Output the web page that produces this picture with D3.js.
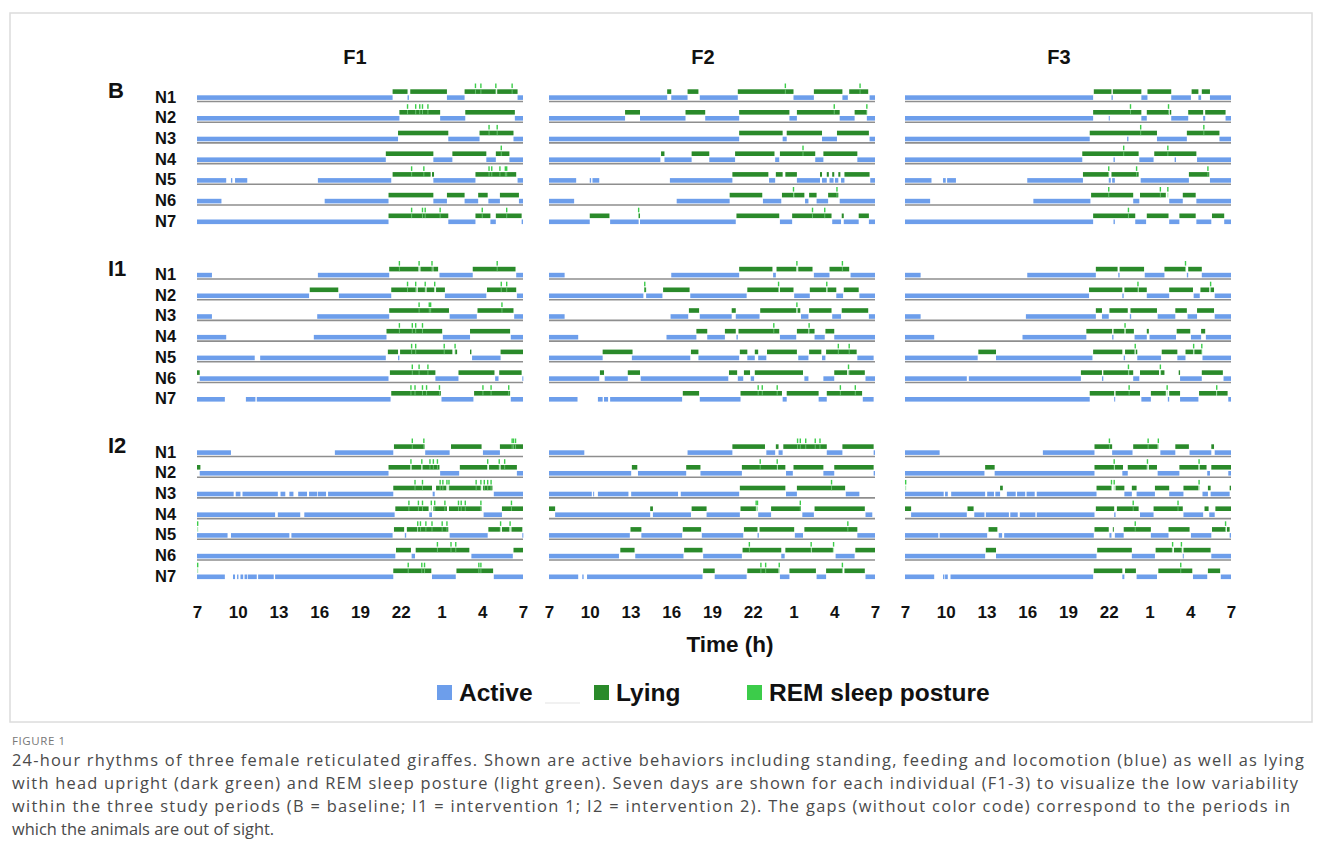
<!DOCTYPE html>
<html>
<head>
<meta charset="utf-8">
<script src="https://cdn.jsdelivr.net/npm/d3@7"></script>
<style>
body{margin:0;background:#fff;}
svg{display:block;font-family:"Liberation Sans",Arial,sans-serif;}
</style>
</head>
<body>
<svg id="chart" width="1322" height="861"></svg>
<script>
// hours counted from 07:00 (0) to 07:00 next day (24)
var periods = ["B", "I1", "I2"];
var animals = ["F1", "F2", "F3"];
var nights = ["N1", "N2", "N3", "N4", "N5", "N6", "N7"];
var tickHours = [0, 3, 6, 9, 12, 15, 18, 21, 24];
var tickLabels = ["7", "10", "13", "16", "19", "22", "1", "4", "7"];
var legendLabels = ["Active", "Lying", "REM sleep posture"];

// ---- baseline ----
var B_F1_active = [
  [[0,14.4],[15.5,15.6],[18.4,19.7],[23.6,24]],
  [[0,14.9],[17.9,19.75],[23.4,24]],
  [[0,14.8],[18.5,20.8],[23.3,24]],
  [[0,13.9],[17.4,18.8],[21.3,22.0],[23.0,24]],
  [[0,2.15],[2.5,2.6],[2.8,3.7],[8.9,14.3],[17.4,20.5],[23.6,24]],
  [[0,1.8],[9.4,14.1],[17.4,18.4],[19.7,20.7],[21.45,22.3],[23.7,24]],
  [[0,14.1],[18.5,20.5],[21.6,22.0],[23.9,24]]
];
var B_F1_lying = [
  [[14.4,15.5],[15.7,18.4],[19.7,22.0],[22.1,23.6]],
  [[14.9,17.9],[19.75,23.4]],
  [[14.8,18.5],[20.8,23.3]],
  [[13.9,17.4],[18.8,21.3],[22.0,23.0]],
  [[14.4,17.2],[17.3,17.45],[20.5,23.5]],
  [[14.1,17.4],[18.4,19.7],[20.7,21.4],[22.3,23.7]],
  [[14.1,18.5],[20.5,21.6],[22.0,23.9]]
];
var B_F1_rem = [
  [20.5,20.9,22.0,23.2],
  [15.5,16.1,16.4,16.6,17.0],
  [21.5,22.1],
  [22.4],
  [15.8,16.7,21.5,21.7,22.3,22.7,22.8],
  [],
  [15.8,16.6,16.8,17.9,21.0,22.8]
];
var B_F2_active = [
  [[0,8.7],[9.0,10.2],[11.1,13.9],[18.0,19.5],[21.6,22.0],[23.6,24]],
  [[0,5.6],[6.7,10.05],[11.5,14.0],[17.7,18.25],[21.4,22.5],[23.4,24]],
  [[0,14.0],[17.2,17.5],[20.1,21.2],[23.6,24]],
  [[0,8.2],[8.5,10.5],[11.8,13.7],[16.65,16.95],[19.6,20.2],[22.7,24]],
  [[0,2.0],[3.0,3.1],[3.2,3.7],[8.9,13.5],[16.2,16.65],[18.25,19.95],[20.1,20.45],[20.65,20.95],[21.05,21.3],[21.5,21.75],[23.65,24]],
  [[0,1.85],[9.4,13.3],[15.75,17.1],[18.85,19.1],[19.7,20.55],[21.4,24]],
  [[0,3.0],[4.5,6.6],[6.7,13.75],[17.0,17.9],[20.85,21.5],[21.7,22.8],[23.55,24]]
];
var B_F2_lying = [
  [[8.7,9.0],[10.2,11.0],[13.9,18.0],[19.5,21.6],[22.1,23.5]],
  [[5.6,6.7],[10.05,11.5],[14.0,17.7],[18.25,21.4],[22.5,23.4]],
  [[14.0,17.2],[17.5,20.1],[21.2,23.55]],
  [[8.25,8.5],[10.5,11.8],[13.7,16.6],[17.0,19.6],[20.2,22.7]],
  [[13.5,16.15],[16.7,17.2],[17.4,18.25],[19.95,20.1],[20.45,20.6],[20.85,21.0],[21.3,21.45],[21.75,23.6]],
  [[13.3,15.7],[17.15,18.0],[18.05,18.8],[19.15,19.7],[20.55,21.3]],
  [[3.0,4.45],[6.6,6.7],[13.8,16.95],[17.9,20.8],[21.55,21.7],[22.8,23.55]]
];
var B_F2_rem = [
  [17.4,22.9],
  [21.0,23.4],
  [],
  [18.7],
  [],
  [18.0,21.2],
  [6.6,19.4,20.3]
];
var B_F3_active = [
  [[0,13.85],[15.2,15.3],[17.4,17.85],[19.6,21.05],[21.6,21.8],[22.45,24]],
  [[0,13.85],[15.0,15.05],[17.4,17.8],[19.6,20.85],[21.95,22.1],[23.6,24]],
  [[0,13.6],[16.35,16.45],[18.55,20.75],[23.15,24]],
  [[0,13.05],[15.35,15.45],[17.25,18.3],[19.85,19.95],[21.5,24]],
  [[0,1.95],[2.8,3.0],[3.1,3.75],[9.0,13.1],[15.0,15.15],[15.25,15.45],[17.35,20.9],[22.45,24]],
  [[0,1.85],[9.45,13.65],[16.8,17.25],[19.45,20.45],[21.45,24]],
  [[0,13.85],[15.35,15.45],[16.95,17.75],[19.45,20.2],[21.45,22.55],[23.5,24]]
];
var B_F3_lying = [
  [[13.9,15.2],[15.3,17.4],[17.85,19.6],[21.1,21.6],[21.85,22.45]],
  [[13.85,17.4],[17.8,19.45],[19.5,19.6],[20.85,21.95],[22.1,23.6]],
  [[13.6,18.55],[20.75,23.15]],
  [[13.05,17.2],[18.35,21.45]],
  [[13.1,15.0],[15.2,17.2],[20.9,22.4]],
  [[13.7,16.8],[17.3,19.2],[20.45,21.4]],
  [[13.85,16.95],[17.8,19.4],[20.2,21.4],[22.6,23.5]]
];
var B_F3_rem = [
  [],
  [16.6,19.4],
  [17.35,22.0],
  [16.1,19.35],
  [15.0,17.05,22.3],
  [15.0,18.8,19.35],
  [16.45]
];

// ---- intervention 1 ----
var I1_F1_active = [
  [[0,1.1],[8.9,14.15],[17.85,20.3],[23.5,24]],
  [[0,8.25],[10.45,14.3],[18.25,21.3],[23.55,24]],
  [[0,1.1],[8.85,14.15],[18.6,20.6],[23.35,24]],
  [[0,2.15],[8.6,13.95],[18.1,20.1],[23.1,24]],
  [[0,4.25],[4.65,13.9],[14.8,14.9],[20.25,22.35]],
  [[0.2,14.1],[17.55,19.25],[21.95,22.2],[23.95,24]],
  [[0,2.05],[3.6,4.3],[4.4,14.25],[18.0,20.35],[23.1,24]]
];
var I1_F1_lying = [
  [[14.15,16.3],[16.45,17.35],[17.4,17.75],[20.3,23.45]],
  [[8.3,10.4],[14.3,16.15],[16.25,16.8],[16.9,17.45],[17.6,18.25],[21.35,23.5]],
  [[14.15,18.55],[20.65,23.3]],
  [[13.95,18.05],[20.1,23.05]],
  [[14.05,14.8],[14.95,18.8],[19.0,19.15],[20.1,20.2],[22.35,24]],
  [[0,0.2],[14.2,17.55],[19.25,21.9],[22.25,23.9]],
  [[14.3,17.95],[20.4,23.05]]
];
var I1_F1_rem = [
  [14.9,16.35,17.3,22.1],
  [15.5,16.1,16.8,17.5,22.4,22.8],
  [16.35,17.1,17.2,22.45],
  [14.9,15.85,16.1,16.6],
  [15.8,16.1,18.2,19.0],
  [15.85,16.35,17.0],
  [15.75,16.05,16.6,16.9,17.85,21.05,21.65,22.95]
];
var I1_F2_active = [
  [[0,1.15],[9.0,14.0],[16.5,16.7],[19.5,20.65],[22.2,24]],
  [[0,6.95],[7.15,8.35],[10.4,14.55],[18.05,19.2],[21.15,21.65],[22.85,24]],
  [[0,1.15],[8.95,10.25],[11.1,13.45],[13.75,15.5],[18.55,19.1],[20.85,21.5],[23.55,24]],
  [[0,2.15],[8.65,10.85],[11.65,12.95],[13.8,13.9],[17.0,18.2],[19.55,20.3],[21.0,24]],
  [[0,3.95],[6.1,10.4],[11.0,14.0],[14.6,15.15],[15.4,16.0],[18.35,19.1],[20.1,20.35],[22.7,23.9]],
  [[0,3.7],[4.1,5.8],[6.75,13.2],[13.9,14.3],[14.85,15.1],[18.8,19.1],[20.2,21.0],[23.3,24]],
  [[0,2.1],[3.6,3.95],[4.05,4.35],[4.5,9.8],[11.1,14.1],[17.2,17.5],[19.85,20.45],[23.1,23.9]]
];
var I1_F2_lying = [
  [[14.0,16.45],[16.75,18.2],[18.35,19.4],[20.65,22.1]],
  [[7.0,7.15],[8.4,10.35],[14.6,16.9],[17.0,18.0],[19.2,20.4],[20.5,21.15],[21.7,22.8]],
  [[10.3,11.05],[13.45,13.75],[15.55,18.2],[18.3,18.5],[19.15,20.8],[21.55,23.5]],
  [[10.85,11.65],[12.95,13.75],[13.95,16.95],[18.25,19.1],[19.15,19.55],[20.35,21.0]],
  [[3.95,6.15],[10.45,11.0],[14.05,14.6],[15.15,15.4],[16.05,18.25],[19.15,20.05],[20.4,22.65]],
  [[3.75,4.05],[5.8,6.7],[13.25,13.85],[14.35,14.8],[15.15,18.7],[21.0,21.95],[22.1,23.25]],
  [[9.85,11.05],[14.1,17.15],[17.5,19.85],[20.45,23.05]]
];
var I1_F2_rem = [
  [18.25,21.6],
  [7.05,16.9,20.45],
  [18.25],
  [16.55,19.15],
  [21.3,22.1],
  [22.05],
  [15.4,15.7,16.8,21.45,22.55]
];
var I1_F3_active = [
  [[0,1.15],[9.0,14.05],[15.7,15.8],[17.65,19.1],[20.75,20.85],[21.85,24]],
  [[0,13.55],[16.0,16.1],[17.8,19.45],[21.25,21.7],[22.8,24]],
  [[0,1.15],[8.9,14.05],[14.5,15.0],[16.55,16.65],[18.6,19.9],[20.8,21.5],[22.8,24]],
  [[0,2.15],[8.65,13.35],[15.25,15.35],[16.9,17.8],[18.0,19.95],[21.05,21.8],[22.15,24]],
  [[0,5.35],[6.7,13.8],[16.1,16.2],[17.1,18.85],[20.05,20.65],[21.9,24]],
  [[0,4.55],[4.7,12.95],[14.5,14.6],[16.8,17.25],[20.25,21.85],[23.45,24]],
  [[0,13.6],[15.4,15.45],[17.4,18.1],[19.35,19.45],[20.25,21.6],[23.8,24]]
];
var I1_F3_lying = [
  [[14.05,15.65],[15.8,17.6],[19.1,20.65],[20.85,21.85]],
  [[13.55,16.0],[16.15,17.15],[17.2,17.8],[19.45,21.2],[21.75,22.4],[22.5,22.75]],
  [[14.05,14.5],[15.05,16.4],[16.6,18.55],[19.9,20.75],[21.5,22.75]],
  [[13.35,15.25],[15.35,16.15],[16.25,16.85],[17.8,17.95],[20.0,21.0],[21.8,22.1]],
  [[5.4,6.7],[13.85,16.0],[16.2,16.9],[17.0,17.1],[18.9,20.05],[20.65,21.2],[21.3,21.85]],
  [[12.95,14.5],[14.6,16.45],[16.5,16.8],[17.3,18.7],[18.85,19.1],[20.15,20.25],[21.85,23.4]],
  [[13.6,15.4],[15.5,17.3],[18.1,19.2],[19.45,20.25],[21.65,22.9],[22.95,23.75]]
];
var I1_F3_rem = [
  [20.65],
  [17.15,22.5],
  [],
  [16.2],
  [16.95,21.25,21.85],
  [16.45,18.8],
  [16.5,19.3,22.95]
];

// ---- intervention 2 ----
var I2_F1_active = [
  [[0,2.5],[10.15,14.45],[16.8,18.6],[21.05,22.3]],
  [[0.2,14.1],[17.9,19.3],[23.55,24]],
  [[0,2.7],[2.85,3.2],[3.35,5.95],[6.15,6.5],[6.8,7.1],[7.45,8.1],[8.25,8.85],[8.9,9.5],[9.65,14.45],[17.35,17.5],[21.85,24]],
  [[0,5.75],[5.95,7.6],[7.9,14.55],[17.1,17.3],[21.1,22.45]],
  [[0,2.25],[2.5,6.8],[6.95,14.4],[15.3,15.4],[18.6,21.4],[23.95,24]],
  [[0,14.6],[15.8,16.05],[20.2,23.25]],
  [[0,2.05],[2.65,2.8],[2.95,3.05],[3.2,3.4],[3.5,3.7],[3.75,4.4],[4.5,5.65],[5.75,14.45],[17.3,19.05],[21.85,24]]
];
var I2_F1_lying = [
  [[14.5,16.75],[18.7,20.95],[22.3,24]],
  [[0,0.25],[14.1,15.7],[15.8,16.5],[16.6,17.85],[19.35,21.35],[21.5,22.25],[22.35,23.55]],
  [[14.45,17.3],[17.6,18.35],[18.55,20.9],[21.05,21.75]],
  [[14.6,17.05],[17.4,18.4],[18.55,20.95],[22.45,24]],
  [[14.5,15.25],[15.45,16.2],[16.25,18.5],[21.45,22.3],[22.45,23.0],[23.15,23.95]],
  [[14.65,15.75],[16.1,20.05],[23.3,24]],
  [[14.45,17.25],[19.1,21.8]]
];
var I2_F1_rem = [
  [15.85,16.7,23.2,23.3,23.45],
  [15.75,16.55,17.15,17.4,17.7,21.4,22.25,22.65],
  [16.05,16.6,17.9,18.1,18.4,18.55,20.55,20.9,21.15,21.4,21.65],
  [15.6,16.3,16.6,17.25,17.5,18.25,19.25,19.45,19.75,20.9,23.15],
  [0.05,16.25,16.45,16.85,17.3,18.05,18.4,22.35,23.05],
  [17.7,18.7,19.05],
  [0.05,15.55,16.55,16.75,20.75,20.9]
];
var I2_F2_active = [
  [[0,2.6],[10.2,13.5],[16.0,16.65],[16.9,17.2],[20.45,21.6],[23.9,24]],
  [[0,6.05],[6.55,10.1],[11.15,14.2],[17.45,17.95],[20.2,21.0],[23.9,24]],
  [[0,3.15],[3.25,3.3],[3.6,5.85],[6.05,9.5],[9.7,14.0],[17.45,18.25],[21.85,22.85]],
  [[0.45,7.45],[7.65,10.45],[11.6,14.05],[15.4,16.35],[18.65,19.5],[23.3,23.8]],
  [[0,5.95],[6.8,9.8],[11.25,14.3],[15.35,15.45],[18.1,18.7],[22.7,24]],
  [[0,5.15],[6.35,9.9],[11.35,14.2],[17.1,17.35],[21.1,22.5]],
  [[0,2.15],[2.45,2.55],[2.8,11.3],[12.2,14.55],[17.0,17.7],[19.7,20.4],[23.3,24]]
];
var I2_F2_lying = [
  [[13.5,15.9],[16.7,16.9],[17.25,20.45],[21.6,23.9]],
  [[6.1,6.5],[10.1,11.15],[14.2,16.8],[16.85,17.4],[18.0,20.2],[21.0,23.9]],
  [[14.05,17.4],[18.25,21.8]],
  [[0,0.45],[7.45,7.65],[10.5,11.6],[14.1,15.25],[16.35,18.55],[19.55,23.25]],
  [[6.0,6.8],[9.85,11.2],[14.35,15.35],[15.5,18.05],[18.8,22.7]],
  [[5.25,6.3],[9.95,11.3],[14.25,17.1],[17.4,19.3],[19.35,20.9],[22.55,24]],
  [[11.35,12.2],[14.6,16.9],[17.7,19.65],[20.4,21.6],[21.75,23.25]]
];
var I2_F2_rem = [
  [18.3,18.5,18.9,19.6,19.95],
  [15.55,16.8],
  [20.8],
  [15.25,15.35,18.5],
  [22.0],
  [14.75,19.3,20.95],
  [15.6,15.95,16.95,21.6]
];
var I2_F3_active = [
  [[0,2.55],[10.15,13.95],[15.25,16.75],[18.8,19.9],[20.95,22.55],[22.8,24]],
  [[0,5.85],[6.6,13.95],[16.0,16.4],[18.6,20.2],[22.25,22.45],[23.8,24]],
  [[0,2.85],[2.95,3.15],[3.4,5.9],[6.05,6.55],[6.65,7.0],[7.5,8.15],[8.25,8.85],[8.95,9.55],[9.7,14.1],[16.15,16.7],[17.05,18.4],[19.45,20.5],[21.9,22.3],[22.5,23.9]],
  [[0.45,4.55],[5.1,5.85],[5.95,7.65],[7.75,8.3],[8.45,9.6],[9.7,13.95],[15.4,15.5],[17.3,18.3],[20.5,21.95],[22.4,22.8]],
  [[0,2.45],[2.55,6.05],[6.9,7.15],[7.3,13.9],[15.05,15.2],[15.45,16.1],[18.1,19.4],[21.05,22.55],[23.9,24]],
  [[0,5.9],[6.7,14.1],[16.7,18.4],[20.45,20.5],[22.55,24]],
  [[0,2.15],[2.8,2.9],[2.95,3.15],[3.35,13.85],[16.0,16.15],[17.05,18.55],[21.2,22.25],[23.25,24]]
];
var I2_F3_lying = [
  [[13.95,15.25],[16.8,18.6],[19.9,20.9],[22.55,22.75]],
  [[5.9,6.6],[13.95,15.4],[15.45,16.05],[16.4,17.8],[17.95,18.55],[20.2,21.6],[21.7,22.2],[22.55,24]],
  [[7.0,7.2],[14.1,15.2],[15.5,16.15],[16.7,17.05],[18.4,19.45],[20.5,21.6],[22.3,22.5],[23.9,24]],
  [[0,0.45],[4.6,5.05],[14.05,15.4],[15.6,17.2],[18.3,20.45],[22.05,22.35],[22.85,24]],
  [[6.15,6.8],[13.95,15.0],[15.3,15.35],[16.1,18.1],[19.4,20.95],[22.6,23.6],[23.7,23.9]],
  [[5.95,6.7],[14.15,16.7],[18.45,19.65],[19.8,20.4],[20.5,22.5]],
  [[13.9,16.0],[16.2,17.0],[18.65,21.15],[22.3,23.2]]
];
var I2_F3_rem = [
  [15.05,17.9,18.65],
  [15.4,17.85,21.65],
  [0.05,15.2,15.4,21.65],
  [16.8,20.1],
  [16.95,23.6],
  [19.7,20.35],
  [20.3]
];

var captionLines = [
  "24-hour rhythms of three female reticulated giraffes. Shown are active behaviors including standing, feeding and locomotion (blue) as well as lying",
  "with head upright (dark green) and REM sleep posture (light green). Seven days are shown for each individual (F1-3) to visualize the low variability",
  "within the three study periods (B = baseline; I1 = intervention 1; I2 = intervention 2). The gaps (without color code) correspond to the periods in",
  "which the animals are out of sight."
];

(function(){

    var colActive = "#6d9eeb",
        colLying = "#2a8a2a",
        colRem = "#3ccc4a",
        colLine = "#8e8e8e";

    var panelLeft = {F1: 197, F2: 549, F3: 905};
    var panelWidth = 326;
    var groupTop = {B: 101.5, I1: 279, I2: 456.5};
    var rowStep = 20.7;

    var tables = {
        B:  {F1: [B_F1_active, B_F1_lying, B_F1_rem],  F2: [B_F2_active, B_F2_lying, B_F2_rem],  F3: [B_F3_active, B_F3_lying, B_F3_rem]},
        I1: {F1: [I1_F1_active, I1_F1_lying, I1_F1_rem], F2: [I1_F2_active, I1_F2_lying, I1_F2_rem], F3: [I1_F3_active, I1_F3_lying, I1_F3_rem]},
        I2: {F1: [I2_F1_active, I2_F1_lying, I2_F1_rem], F2: [I2_F2_active, I2_F2_lying, I2_F2_rem], F3: [I2_F3_active, I2_F3_lying, I2_F3_rem]}
    };

    var svg = d3.select("#chart");

    // light frame round the figure
    svg.append("rect")
        .attr("x", 10).attr("y", 13)
        .attr("width", 1302).attr("height", 709)
        .attr("fill", "none")
        .attr("stroke", "#dcdcdc")
        .attr("stroke-width", 1.5);

    function drawPanel(period, animal){
        var x = d3.scaleLinear().domain([0, 24]).range([panelLeft[animal], panelLeft[animal] + panelWidth]);
        var y = d3.scaleLinear().domain([0, 1]).range([groupTop[period], groupTop[period] + rowStep]);
        var t = tables[period][animal];
        var g = svg.append("g").attr("class", "panel " + period + animal);

        nights.forEach(function(n, i){
            var base = y(i);
            var row = g.append("g");

            //separator line under each night except the last
            if (i < nights.length - 1){
                row.append("line")
                    .attr("x1", x(0)).attr("x2", x(24))
                    .attr("y1", base).attr("y2", base)
                    .attr("stroke", colLine)
                    .attr("stroke-width", 1.6);
            }

            row.selectAll(".active")
                .data(t[0][i])
                .enter()
                .append("rect")
                .attr("class", "active")
                .attr("x", function(d){return x(d[0]);})
                .attr("width", function(d){return Math.max(1, x(d[1]) - x(d[0]));})
                .attr("y", base - 6.2)
                .attr("height", 4.6)
                .attr("fill", colActive);

            row.selectAll(".lying")
                .data(t[1][i])
                .enter()
                .append("rect")
                .attr("class", "lying")
                .attr("x", function(d){return x(d[0]);})
                .attr("width", function(d){return Math.max(1, x(d[1]) - x(d[0]));})
                .attr("y", base - 12.2)
                .attr("height", 4.6)
                .attr("fill", colLying);

            row.selectAll(".rem")
                .data(t[2][i])
                .enter()
                .append("rect")
                .attr("class", "rem")
                .attr("x", function(d){return x(d) - 0.7;})
                .attr("width", 1.4)
                .attr("y", base - 18)
                .attr("height", 4.6)
                .attr("fill", colRem);

            row.selectAll(".remIn")
                .data(t[2][i])
                .enter()
                .append("rect")
                .attr("class", "remIn")
                .attr("x", function(d){return x(d) - 0.5;})
                .attr("width", 1)
                .attr("y", base - 12.2)
                .attr("height", 4.6)
                .attr("fill", "#7fd88a")
                .attr("opacity", 0.7);
        });

        // time axis under the last period
        if (period === "I2"){
            var axis = d3.axisBottom(x)
                .tickValues(tickHours)
                .tickFormat(function(d, i){return tickLabels[i];})
                .tickSize(0);
            var ax = svg.append("g")
                .attr("transform", "translate(0,603)")
                .call(axis);
            ax.select(".domain").remove();
            ax.selectAll("text")
                .style("font-family", "'Liberation Sans', Arial, sans-serif")
                .style("font-size", "17px")
                .style("font-weight", "bold")
                .attr("fill", "#111");
        }
    };

    periods.forEach(function(p){
        animals.forEach(function(a){
            drawPanel(p, a);
        });

        svg.append("text")
            .attr("x", 108)
            .attr("y", groupTop[p] - 3.5)
            .attr("font-size", 22)
            .attr("font-weight", "bold")
            .attr("fill", "#111")
            .text(p);

        nights.forEach(function(n, i){
            svg.append("text")
                .attr("x", 155)
                .attr("y", groupTop[p] + i * rowStep + 1)
                .attr("font-size", 16.5)
                .attr("font-weight", "bold")
                .attr("fill", "#111")
                .text(n);
        });
    });

    //column titles
    var titleX = {F1: 355, F2: 703, F3: 1059};
    animals.forEach(function(a){
        svg.append("text")
            .attr("x", titleX[a])
            .attr("y", 64)
            .attr("text-anchor", "middle")
            .attr("font-size", 20)
            .attr("font-weight", "bold")
            .attr("fill", "#111")
            .text(a);
    });

    svg.append("text")
        .attr("x", 730)
        .attr("y", 652)
        .attr("text-anchor", "middle")
        .attr("font-size", 22.5)
        .attr("font-weight", "bold")
        .attr("fill", "#111")
        .text("Time (h)");

    // legend
    var legendX = [437, 594, 747];
    var legendCol = [colActive, colLying, colRem];
    legendLabels.forEach(function(lab, i){
        svg.append("rect")
            .attr("x", legendX[i]).attr("y", 685)
            .attr("width", 15).attr("height", 15)
            .attr("fill", legendCol[i]);
        svg.append("text")
            .attr("x", legendX[i] + 22)
            .attr("y", 701)
            .attr("font-size", 24.5)
            .attr("font-weight", "bold")
            .attr("fill", "#111")
            .text(lab);
    });
    // the empty "gap" key between Active and Lying
    svg.append("line")
        .attr("x1", 545).attr("x2", 580)
        .attr("y1", 703).attr("y2", 703)
        .attr("stroke", "#ececec")
        .attr("stroke-width", 1.5);

    // caption
    svg.append("text")
        .attr("x", 12)
        .attr("y", 745)
        .attr("font-family", "'Open Sans', 'Noto Sans', sans-serif")
        .attr("font-size", 11.5)
        .attr("letter-spacing", 0.6)
        .attr("fill", "#777")
        .text("FIGURE 1");

    var capWidths = [1292, 1286, 1278, null];
    captionLines.forEach(function(line, i){
        var tx = svg.append("text")
            .attr("x", 12)
            .attr("y", 766 + i * 23)
            .attr("font-family", "'Open Sans', 'Noto Sans', sans-serif")
            .attr("font-size", 16.4)
            .attr("fill", "#4a4a4a")
            .text(line);
        if (capWidths[i]){
            tx.attr("textLength", capWidths[i]).attr("lengthAdjust", "spacing");
        }
    });

})();
</script>
</body>
</html>
